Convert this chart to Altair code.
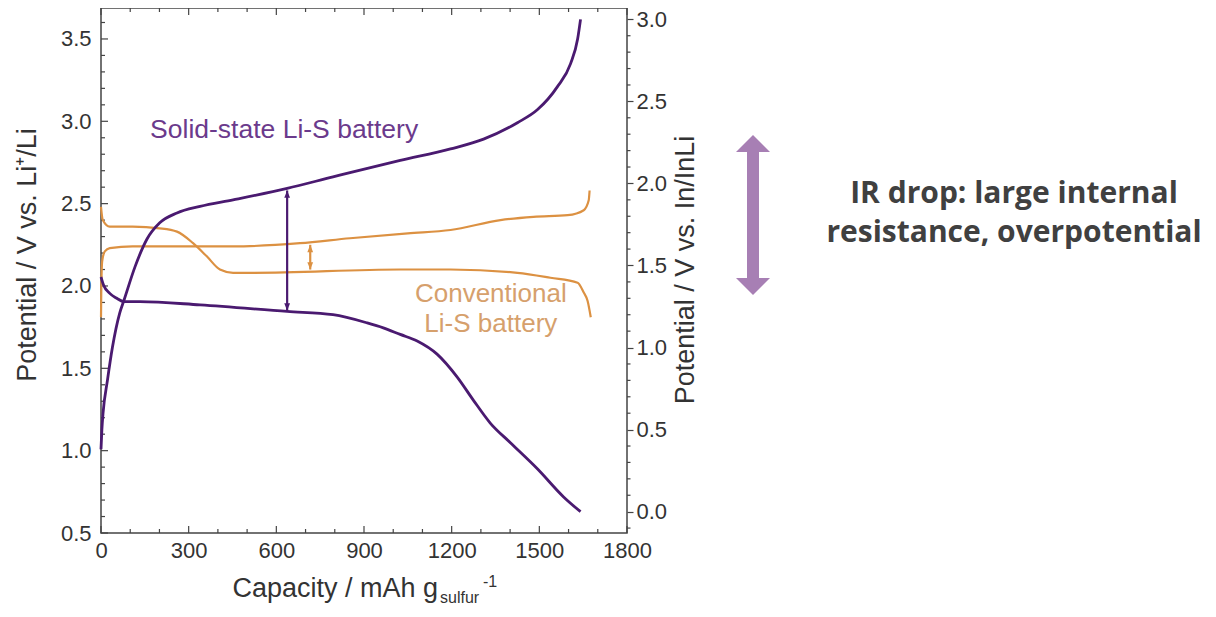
import altair as alt
import pandas as pd

# ---------------- data ----------------
# Solid-state Li-S battery (right axis, V vs. In/InLi)
cap_ss_charge = [0, 3, 7, 22, 39, 64, 79, 116, 157, 201, 260, 339, 452, 637, 794,
                 1024, 1196, 1309, 1425, 1494, 1562, 1607, 1631, 1641]
pot_ss_charge = [0.38, 0.50, 0.60, 0.80, 1.00, 1.21, 1.29, 1.49, 1.66, 1.76, 1.82, 1.86,
                 1.90, 1.97, 2.04, 2.14, 2.21, 2.27, 2.37, 2.45, 2.59, 2.73, 2.88, 3.00]
cap_ss_discharge = [0, 9, 30, 54, 78, 133, 339, 637, 794, 911, 966, 1024, 1082, 1150,
                    1219, 1274, 1332, 1401, 1494, 1583, 1641]
pot_ss_discharge = [1.43, 1.38, 1.33, 1.30, 1.28, 1.28, 1.26, 1.22, 1.20, 1.15, 1.12,
                    1.08, 1.04, 0.96, 0.82, 0.68, 0.54, 0.42, 0.26, 0.09, 0.00]

# Conventional Li-S battery (left axis, V vs. Li+/Li)
cap_conv_charge = [0, 1, 4, 13, 30, 108, 452, 681, 852, 1050, 1196, 1367, 1480, 1597,
                   1652, 1669, 1672]
pot_conv_charge = [1.81, 1.98, 2.15, 2.21, 2.23, 2.24, 2.24, 2.26, 2.29, 2.32, 2.34,
                   2.40, 2.42, 2.43, 2.46, 2.52, 2.58]
cap_conv_discharge = [0, 6, 30, 108, 201, 260, 315, 362, 407, 452, 520, 1024, 1196,
                      1425, 1538, 1631, 1652, 1665, 1676]
pot_conv_discharge = [2.48, 2.40, 2.36, 2.36, 2.35, 2.33, 2.26, 2.18, 2.10, 2.08, 2.08,
                      2.10, 2.10, 2.08, 2.05, 2.02, 1.96, 1.91, 1.81]

# IR-drop arrows inside the plot (left axis units)
arrow_names = ["solid", "conv"]
arrow_cap = [637, 716]
arrow_top = [2.58, 2.25]
arrow_bottom = [1.85, 2.10]

# curve labels (left axis units)
label_text = ["Solid-state Li-S battery", "Conventional", "Li-S battery"]
label_cap = [168, 1334, 1334]
label_pot = [2.90, 1.90, 1.72]
label_group = ["solid", "conv", "conv"]

# ticks
x_major = [0, 300, 600, 900, 1200, 1500, 1800]
x_minor = [100, 200, 400, 500, 700, 800, 1000, 1100, 1300, 1400, 1600, 1700]
left_major = [0.5, 1.0, 1.5, 2.0, 2.5, 3.0, 3.5]
left_minor = [0.6, 0.7, 0.8, 0.9, 1.1, 1.2, 1.3, 1.4, 1.6, 1.7, 1.8, 1.9, 2.1, 2.2,
              2.3, 2.4, 2.6, 2.7, 2.8, 2.9, 3.1, 3.2, 3.3, 3.4, 3.6]
right_major = [0.0, 0.5, 1.0, 1.5, 2.0, 2.5, 3.0]
right_minor = [-0.1, 0.1, 0.2, 0.3, 0.4, 0.6, 0.7, 0.8, 0.9, 1.1, 1.2, 1.3, 1.4, 1.6,
               1.7, 1.8, 1.9, 2.1, 2.2, 2.3, 2.4, 2.6, 2.7, 2.8, 2.9]

# ---------------- styling ----------------
W, H = 526, 525
PURPLE = "#4a1a70"
PURPLE_TXT = "#6b3a8c"
ORANGE = "#dc9142"
ORANGE_TXT = "#d6a06c"
LAVENDER = "#a77fb4"
AXIS_C = "#444444"
LABEL_C = "#333333"
FONT = "Liberation Sans"

X_SCALE = alt.Scale(domain=[0, 1800], nice=False, zero=False)
YL_SCALE = alt.Scale(domain=[0.5, 3.688], nice=False, zero=False)
YR_SCALE = alt.Scale(domain=[-0.13, 3.069], nice=False, zero=False)

x_axis = alt.Axis(values=x_major, format="d", title=None, ticks=False, tickSize=0,
                  labelPadding=7, domain=False, grid=False, labelFontSize=22,
                  labelColor=LABEL_C, labelFont=FONT, labelFlush=False)
yl_axis = alt.Axis(values=left_major, format=".1f", title=None, ticks=False, tickSize=0,
                   labelPadding=10, domain=False, grid=False, orient="left",
                   labelFontSize=22, labelColor=LABEL_C, labelFont=FONT)
yr_axis = alt.Axis(values=right_major, format=".1f", title=None, ticks=True, tickSize=6,
                   tickColor=AXIS_C, tickWidth=1.2, labelPadding=3, domain=False,
                   grid=False, orient="right", labelFontSize=22, labelColor=LABEL_C,
                   labelFont=FONT)


def X(f):
    return alt.X(f"{f}:Q", scale=X_SCALE, axis=x_axis)


def YL(f):
    return alt.Y(f"{f}:Q", scale=YL_SCALE, axis=yl_axis)


def YR(f):
    return alt.Y(f"{f}:Q", scale=YR_SCALE, axis=yr_axis)


def curve_df(parts):
    rows = []
    for name, caps, pots in parts:
        for i, (c, p) in enumerate(zip(caps, pots)):
            rows.append({"seg": name, "i": i, "cap": c, "pot": p})
    return pd.DataFrame(rows)


conv_df = curve_df([("charge", cap_conv_charge, pot_conv_charge),
                    ("discharge", cap_conv_discharge, pot_conv_discharge)])
ss_df = curve_df([("charge", cap_ss_charge, pot_ss_charge),
                  ("discharge", cap_ss_discharge, pot_ss_discharge)])

arrows_df = pd.DataFrame({"name": arrow_names, "cap": arrow_cap,
                          "top": arrow_top, "bottom": arrow_bottom})
labels_df = pd.DataFrame({"t": label_text, "cap": label_cap, "pot": label_pot,
                          "g": label_group})

UP = "M0,0 L0.55,1.4 L-0.55,1.4 Z"
DOWN = "M0,0 L0.55,-1.4 L-0.55,-1.4 Z"
BIG_UP = "M0,0 L1,1 L-1,1 Z"
BIG_DOWN = "M0,0 L1,-1 L-1,-1 Z"

one = pd.DataFrame({"k": [0]})

# ---------------- left-scale layers ----------------
conv_lines = alt.Chart(conv_df).mark_line(
    color=ORANGE, strokeWidth=2.2, interpolate="monotone"
).encode(x=X("cap"), y=YL("pot"), detail="seg:N", order="i:Q")

arrow_color = alt.Color("name:N", scale=alt.Scale(domain=arrow_names,
                                                   range=[PURPLE, ORANGE]), legend=None)
arrow_shafts = alt.Chart(arrows_df).mark_rule(strokeWidth=2.2).encode(
    x=X("cap"), y=YL("top"), y2="bottom:Q", color=arrow_color)
arrow_heads_up = alt.Chart(arrows_df).mark_point(
    shape=UP, size=110, filled=True, opacity=1, strokeWidth=0
).encode(x=X("cap"), y=YL("top"), color=arrow_color)
arrow_heads_down = alt.Chart(arrows_df).mark_point(
    shape=DOWN, size=110, filled=True, opacity=1, strokeWidth=0
).encode(x=X("cap"), y=YL("bottom"), color=arrow_color)

solid_label = alt.Chart(labels_df[labels_df.g == "solid"]).mark_text(
    fontSize=26.5, font=FONT, baseline="alphabetic", align="left", color=PURPLE_TXT
).encode(x=X("cap"), y=YL("pot"), text="t:N")
conv_label = alt.Chart(labels_df[labels_df.g == "conv"]).mark_text(
    fontSize=26, font=FONT, baseline="alphabetic", align="center", color=ORANGE_TXT
).encode(x=X("cap"), y=YL("pot"), text="t:N")

# inward ticks (left axis, bottom axis and mirrored top axis)
lmaj = pd.DataFrame({"v": left_major})
lmin = pd.DataFrame({"v": left_minor})
xmaj = pd.DataFrame({"v": x_major})
xmin = pd.DataFrame({"v": x_minor})
tick_style = dict(color=AXIS_C, strokeWidth=1.2)
left_ticks_major = alt.Chart(lmaj).mark_rule(**tick_style).encode(
    y=YL("v"), x=alt.value(0), x2=alt.value(7))
left_ticks_minor = alt.Chart(lmin).mark_rule(**tick_style).encode(
    y=YL("v"), x=alt.value(0), x2=alt.value(4))
bottom_ticks_major = alt.Chart(xmaj).mark_rule(**tick_style).encode(
    x=X("v"), y=alt.value(H), y2=alt.value(H - 7))
bottom_ticks_minor = alt.Chart(xmin).mark_rule(**tick_style).encode(
    x=X("v"), y=alt.value(H), y2=alt.value(H - 4))
top_ticks_major = alt.Chart(xmaj).mark_rule(**tick_style).encode(
    x=X("v"), y=alt.value(0), y2=alt.value(7))
top_ticks_minor = alt.Chart(xmin).mark_rule(**tick_style).encode(
    x=X("v"), y=alt.value(0), y2=alt.value(4))

# axis titles as text (for sub/superscripts)
title_style = dict(font=FONT, fontSize=27, color=LABEL_C)
y_left_title = alt.Chart(one).mark_text(
    angle=270, align="center", baseline="alphabetic", **title_style
).encode(x=alt.value(-65), y=alt.value(247), text=alt.value("Potential / V vs. Li⁺/Li"))
y_right_title = alt.Chart(one).mark_text(
    angle=270, align="center", baseline="alphabetic", **title_style
).encode(x=alt.value(593), y=alt.value(262), text=alt.value("Potential / V vs. In/InLi"))
x_title_main = alt.Chart(one).mark_text(
    align="right", baseline="alphabetic", **title_style
).encode(x=alt.value(337), y=alt.value(589), text=alt.value("Capacity / mAh g"))
x_title_sub = alt.Chart(one).mark_text(
    align="left", baseline="alphabetic", font=FONT, fontSize=16, color=LABEL_C
).encode(x=alt.value(339), y=alt.value(595), text=alt.value("sulfur"))
x_title_sup = alt.Chart(one).mark_text(
    align="left", baseline="alphabetic", font=FONT, fontSize=16, color=LABEL_C
).encode(x=alt.value(382), y=alt.value(579), text=alt.value("-1"))

# IR-drop annotation on the right
big_shaft = alt.Chart(one).mark_rule(color=LAVENDER, strokeWidth=12).encode(
    x=alt.value(652), y=alt.value(142), y2=alt.value(272))
big_head_up = alt.Chart(one).mark_point(
    shape=BIG_UP, size=1156, filled=True, opacity=1, strokeWidth=0, color=LAVENDER
).encode(x=alt.value(652), y=alt.value(127))
big_head_down = alt.Chart(one).mark_point(
    shape=BIG_DOWN, size=1156, filled=True, opacity=1, strokeWidth=0, color=LAVENDER
).encode(x=alt.value(652), y=alt.value(287))
ir_style = dict(font="Open Sans", fontSize=30, fontWeight="bold", color="#404040",
                align="center", baseline="alphabetic")
ir_line1 = alt.Chart(one).mark_text(**ir_style).encode(
    x=alt.value(913), y=alt.value(195), text=alt.value("IR drop: large internal"))
ir_line2 = alt.Chart(one).mark_text(**ir_style).encode(
    x=alt.value(913), y=alt.value(234), text=alt.value("resistance, overpotential"))

left_group = alt.layer(
    left_ticks_minor, left_ticks_major, bottom_ticks_minor, bottom_ticks_major,
    top_ticks_minor, top_ticks_major,
    conv_lines, arrow_shafts, arrow_heads_up, arrow_heads_down,
    solid_label, conv_label,
    y_left_title, y_right_title, x_title_main, x_title_sub, x_title_sup,
    big_shaft, big_head_up, big_head_down, ir_line1, ir_line2,
)

# ---------------- right-scale layers ----------------
ss_lines = alt.Chart(ss_df).mark_line(
    color=PURPLE, strokeWidth=2.8, interpolate="monotone"
).encode(x=X("cap"), y=YR("pot"), detail="seg:N", order="i:Q")
right_ticks_minor = alt.Chart(pd.DataFrame({"v": right_minor})).mark_rule(
    **tick_style).encode(y=YR("v"), x=alt.value(W), x2=alt.value(W + 3.5))

right_group = alt.layer(right_ticks_minor, ss_lines)

chart = alt.layer(left_group, right_group).resolve_scale(y="independent").properties(
    width=W, height=H,
    background="white",
    autosize=alt.AutoSizeParams(type="none"),
    padding={"left": 93, "top": 0, "right": 581, "bottom": 76},
).configure_view(stroke=AXIS_C, strokeWidth=1.5)

chart.save("out.html", embed_options={"renderer": "svg", "actions": False})
